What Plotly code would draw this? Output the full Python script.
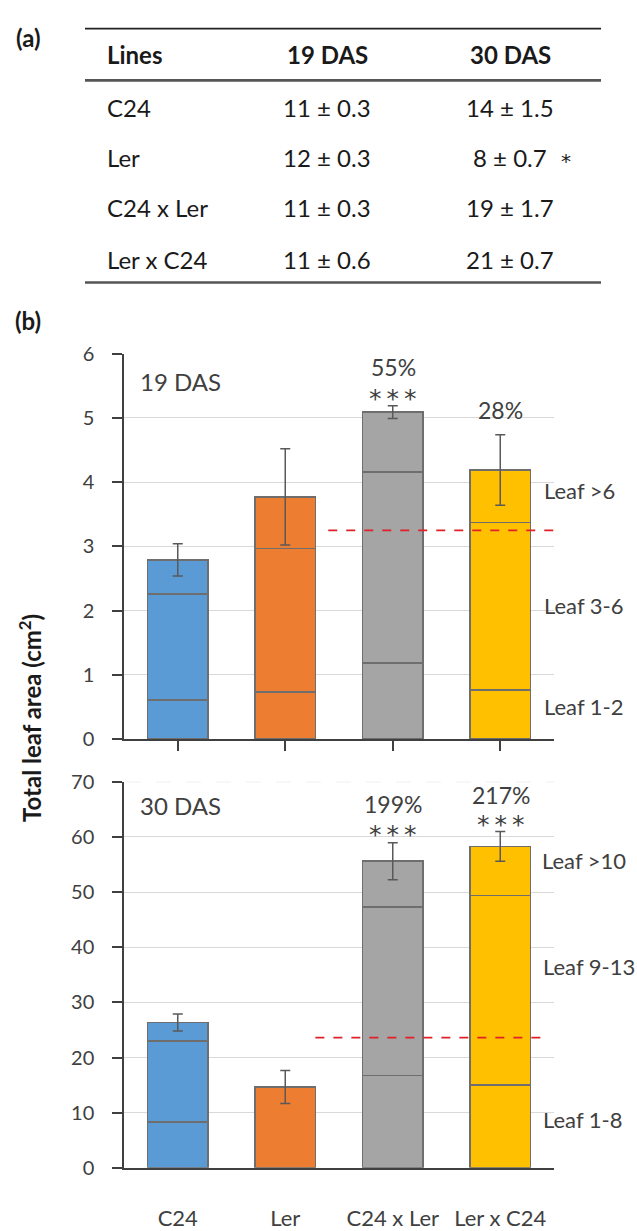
import plotly.graph_objects as go

# ---------------- data ----------------
categories = ["C24", "Ler", "C24 x Ler", "Ler x C24"]
bar_colors = ["#5B9BD5", "#ED7D31", "#A5A5A5", "#FFC000"]

# table (a): leaf number
leaves_19_mean = [11, 12, 11, 11]
leaves_19_se = [0.3, 0.3, 0.3, 0.6]
leaves_30_mean = [14, 8, 19, 21]
leaves_30_se = [1.5, 0.7, 1.7, 0.7]
leaves_30_sig = ["", "*", "", ""]

# panel (b) 19 DAS: cumulative boundaries of leaf groups (cm2)
das19_leaf12 = [0.61, 0.73, 1.18, 0.76]      # leaf 1-2
das19_leaf36 = [2.26, 2.97, 4.16, 3.37]      # up to leaf 3-6
das19_total = [2.79, 3.77, 5.09, 4.19]       # total
das19_err = [0.25, 0.75, 0.10, 0.55]
das19_pct = ["", "", "55%", "28%"]
das19_sig = ["", "", "***", ""]
das19_threshold = 3.25

# panel (b) 30 DAS
das30_leaf18 = [8.3, None, 16.7, 15.0]       # leaf 1-8
das30_leaf913 = [23.0, None, 47.3, 49.4]     # up to leaf 9-13
das30_total = [26.35, 14.66, 55.6, 58.3]
das30_err = [1.55, 3.0, 3.35, 2.7]
das30_pct = ["", "", "199%", "217%"]
das30_sig = ["", "", "***", "***"]
das30_threshold = 23.6

W, H = 637, 1231
FONT = "Lato"
STARFONT = "DejaVu Sans"
TXT = "#404040"
EDGE = "#6e6e6e"
AX = "#404040"


def px(x):
    return x / W


def py(y):
    return 1 - y / H


def segments(b1, b2, tot):
    s1, s2, s3 = [], [], []
    for a, b, t in zip(b1, b2, tot):
        if a is None:
            s1.append(t); s2.append(None); s3.append(None)
        else:
            s1.append(a); s2.append(b - a); s3.append(t - b)
    return s1, s2, s3


fig = go.Figure()

for (b1, b2, tot, err, xa, ya) in [
    (das19_leaf12, das19_leaf36, das19_total, das19_err, "x", "y"),
    (das30_leaf18, das30_leaf913, das30_total, das30_err, "x2", "y2"),
]:
    for seg in segments(b1, b2, tot):
        fig.add_trace(go.Bar(
            x=categories, y=seg, xaxis=xa, yaxis=ya,
            marker=dict(color=bar_colors, line=dict(color=EDGE, width=1.5)),
            showlegend=False, hoverinfo="skip"))
    fig.add_trace(go.Scatter(
        x=categories, y=tot, xaxis=xa, yaxis=ya, mode="markers",
        marker=dict(size=1, color="rgba(0,0,0,0)"),
        error_y=dict(type="data", array=err, visible=True, color="#595959",
                     thickness=1.5, width=5),
        showlegend=False, hoverinfo="skip"))

xdom = [px(124), px(554)]
common_x = dict(domain=xdom, type="category", range=[-0.5, 3.5], showgrid=False,
                showline=True, linecolor=AX, linewidth=1.5, zeroline=False)
fig.update_layout(
    width=W, height=H, margin=dict(l=0, r=0, t=0, b=0),
    paper_bgcolor="white", plot_bgcolor="white",
    barmode="stack", bargap=0.44,
    font=dict(family=FONT, color=TXT),
    xaxis=dict(**common_x, anchor="y", ticks="outside", ticklen=10, tickcolor=AX,
               tickwidth=1.5, showticklabels=False),
    yaxis=dict(domain=[py(743.5), py(349)], range=[0, 6], dtick=1,
               showgrid=True, gridcolor="#d9d9d9", gridwidth=1.2,
               showline=True, linecolor=AX, linewidth=1.5, zeroline=False,
               ticks="outside", ticklen=10, tickcolor=AX, tickwidth=1.5,
               ticklabelstandoff=14, tickfont=dict(size=20, color=TXT),
               anchor="x"),
    xaxis2=dict(**common_x, anchor="y2", ticks="", showticklabels=True,
                ticklabelstandoff=30, tickfont=dict(size=22, color=TXT)),
    yaxis2=dict(domain=[py(1182.7), py(787.3)], range=[0, 70], dtick=10,
                showgrid=True, gridcolor="#d9d9d9", gridwidth=1.2,
                showline=True, linecolor=AX, linewidth=1.5, zeroline=False,
                ticks="outside", ticklen=10, tickcolor=AX, tickwidth=1.5,
                ticklabelstandoff=14, tickfont=dict(size=20, color=TXT),
                anchor="x2"),
)

shapes = []
# red dashed threshold lines
shapes.append(dict(type="line", xref="x", yref="y", x0=1.40, x1=3.55,
                   y0=das19_threshold, y1=das19_threshold,
                   line=dict(color="#E0202A", width=1.6, dash="dash")))
shapes.append(dict(type="line", xref="x2", yref="y2", x0=1.28, x1=3.41,
                   y0=das30_threshold, y1=das30_threshold,
                   line=dict(color="#E0202A", width=1.6, dash="dash")))
# end tick on top x axis
shapes.append(dict(type="line", xref="x", yref="y", ysizemode="pixel", yanchor=0,
                   x0=3.5, x1=3.5, y0=0, y1=-10, line=dict(color=AX, width=1.5)))
# dashed top gridline in bottom panel
shapes.append(dict(type="line", xref="paper", yref="y2", x0=xdom[0] + 0.003, x1=xdom[1],
                   y0=70, y1=70, line=dict(color="white", width=2)))
shapes.append(dict(type="line", xref="paper", yref="y2", x0=xdom[0] + 0.003, x1=xdom[1],
                   y0=70, y1=70, line=dict(color="#d9d9d9", width=1.2, dash="longdash")))

# table rules
for yy, w, c in [(16, 1.6, "#222222"), (69, 2.6, "#555555"), (276, 2.6, "#555555")]:
    shapes.append(dict(type="line", xref="paper", yref="paper", x0=px(85), x1=px(601),
                       y0=py(yy), y1=py(yy), line=dict(color=c, width=w)))

ann = []


def text(x, y, s, size, bold=False, xanchor="center", color=TXT, family=FONT, **kw):
    if bold:
        s = "<b>" + s + "</b>"
    ann.append(dict(x=px(x), y=py(y), xref="paper", yref="paper", text=s,
                    showarrow=False, xanchor=xanchor, yanchor="middle",
                    font=dict(family=family, size=size, color=color), **kw))


def spaced(s):
    return "\u2009".join(s)


TCOL = "#1a1a1a"
text(28, 25, "(a)", 24, bold=True, color=TCOL)
text(28, 315, "(b)", 24, bold=True, color=TCOL)

# table
text(105, 43, "Lines", 24, bold=True, xanchor="left", color=TCOL)
text(327, 43, "19 DAS", 24, bold=True, color=TCOL)
text(510, 43, "30 DAS", 24, bold=True, color=TCOL)
row_y = [97, 148, 199, 252]
for i, name in enumerate(categories):
    text(105, row_y[i], name, 24, xanchor="left", color=TCOL)
    text(327, row_y[i], f"{leaves_19_mean[i]} ± {leaves_19_se[i]}", 24, color=TCOL)
    text(510, row_y[i], f"{leaves_30_mean[i]} ± {leaves_30_se[i]}", 24, color=TCOL)
    if leaves_30_sig[i]:
        text(566, row_y[i] + 4, leaves_30_sig[i], 20, color=TCOL, family=STARFONT)

# panel labels
text(181, 377, "19 DAS", 24)
text(181, 812, "30 DAS", 24)

# percentages / significance (label positions in pixels)
pct19_y = [None, None, 363, 407]
sig19_y = [None, None, 389, None]
pct30_y = [None, None, 810, 801]
sig30_y = [None, None, 835, 825]
xc = [178, 285.5, 393, 500.5]
for i in range(4):
    if das19_pct[i]:
        text(xc[i], pct19_y[i], das19_pct[i], 23)
    if das19_sig[i]:
        text(xc[i], sig19_y[i] + 6, spaced(das19_sig[i]), 25, family=STARFONT)
    if das30_pct[i]:
        text(xc[i], pct30_y[i], das30_pct[i], 23)
    if das30_sig[i]:
        text(xc[i], sig30_y[i] + 6, spaced(das30_sig[i]), 25, family=STARFONT)

# right-hand leaf group labels
text(542, 489, "Leaf >6", 22, xanchor="left")
text(542, 607, "Leaf 3-6", 22, xanchor="left")
text(542, 710, "Leaf 1-2", 22, xanchor="left")
text(540, 868, "Leaf >10", 22, xanchor="left")
text(541, 977, "Leaf 9-13", 22, xanchor="left")
text(541, 1133, "Leaf 1-8", 22, xanchor="left")

# y-axis title
ann.append(dict(x=px(30), y=py(722), xref="paper", yref="paper",
                text="<b>Total leaf area (cm<sup>2</sup>)</b>", textangle=-90,
                showarrow=False, xanchor="center", yanchor="middle",
                font=dict(family=FONT, size=24, color="#1a1a1a")))

fig.update_layout(shapes=shapes, annotations=ann)
fig.write_html("out.html")
